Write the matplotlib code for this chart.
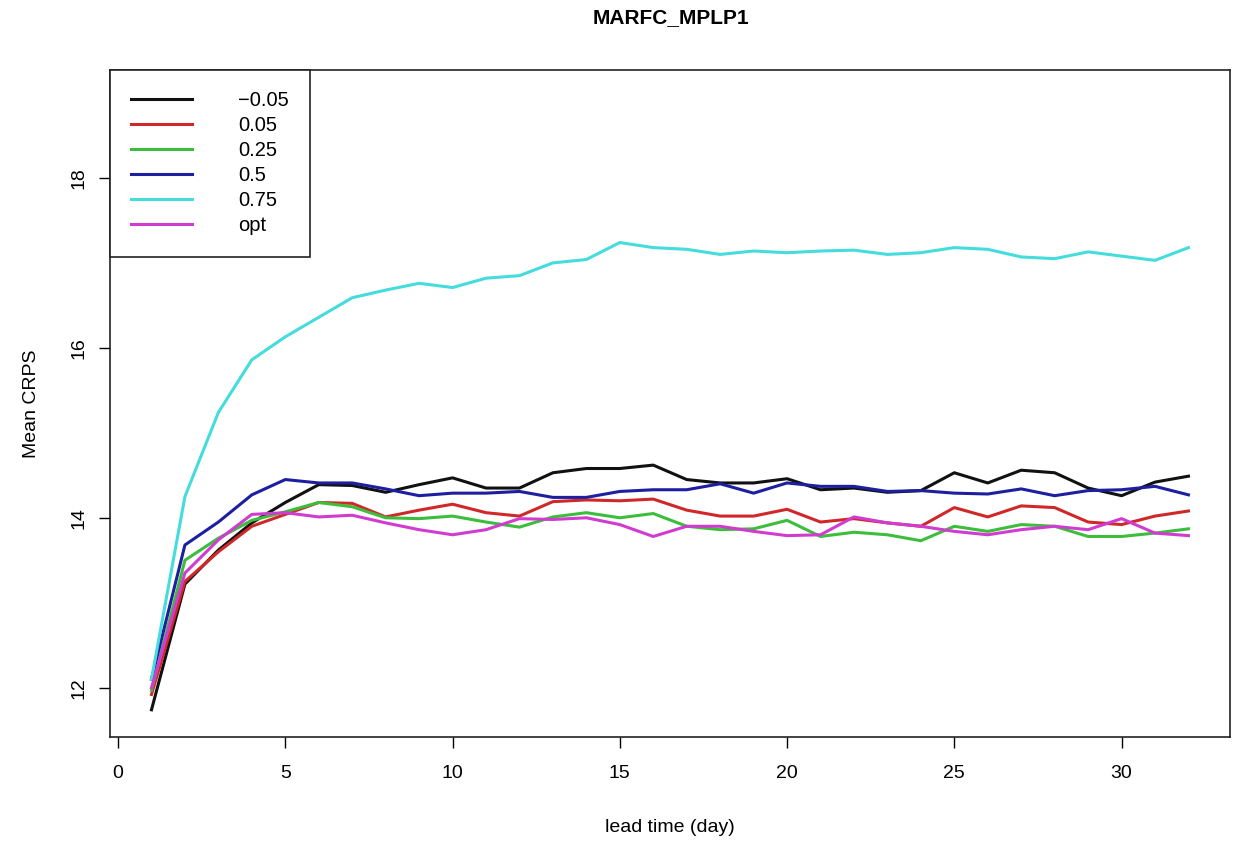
import matplotlib
matplotlib.use('Agg')
from matplotlib import pyplot as plt

plt.rcParams['font.family'] = ['Liberation Sans', 'DejaVu Sans']

days = list(range(1, 33))

crps_m005 = [11.74, 13.22, 13.62, 13.94, 14.18, 14.39, 14.38, 14.30, 14.39, 14.47,
             14.35, 14.35, 14.53, 14.58, 14.58, 14.62, 14.45, 14.41, 14.41, 14.46,
             14.33, 14.35, 14.30, 14.32, 14.53, 14.41, 14.56, 14.53, 14.35, 14.26,
             14.42, 14.49]
crps_005 = [11.92, 13.25, 13.60, 13.90, 14.04, 14.18, 14.17, 14.01, 14.09, 14.16,
            14.06, 14.02, 14.19, 14.21, 14.20, 14.22, 14.09, 14.02, 14.02, 14.10,
            13.95, 13.99, 13.94, 13.90, 14.12, 14.01, 14.14, 14.12, 13.95, 13.92,
            14.02, 14.08]
crps_025 = [11.97, 13.50, 13.76, 13.97, 14.07, 14.18, 14.13, 14.00, 13.99, 14.02,
            13.95, 13.89, 14.01, 14.06, 14.00, 14.05, 13.90, 13.86, 13.87, 13.97,
            13.78, 13.83, 13.80, 13.73, 13.90, 13.84, 13.92, 13.90, 13.78, 13.78,
            13.82, 13.87]
crps_05 = [12.10, 13.68, 13.95, 14.27, 14.45, 14.41, 14.41, 14.34, 14.26, 14.29,
           14.29, 14.31, 14.24, 14.24, 14.31, 14.33, 14.33, 14.40, 14.29, 14.41,
           14.37, 14.37, 14.31, 14.32, 14.29, 14.28, 14.34, 14.26, 14.32, 14.33,
           14.37, 14.27]
crps_075 = [12.10, 14.25, 15.24, 15.86, 16.13, 16.36, 16.59, 16.68, 16.76, 16.71,
            16.82, 16.85, 17.00, 17.04, 17.24, 17.18, 17.16, 17.10, 17.14, 17.12,
            17.14, 17.15, 17.10, 17.12, 17.18, 17.16, 17.07, 17.05, 17.13, 17.08,
            17.03, 17.18]
crps_opt = [12.00, 13.35, 13.74, 14.04, 14.06, 14.01, 14.03, 13.94, 13.86, 13.80,
            13.86, 13.99, 13.98, 14.00, 13.92, 13.78, 13.90, 13.90, 13.84, 13.79,
            13.80, 14.01, 13.94, 13.90, 13.84, 13.80, 13.86, 13.90, 13.86, 13.99,
            13.82, 13.79]

series = [crps_m005, crps_005, crps_025, crps_05, crps_075, crps_opt]
labels = ['\u22120.05', '0.05', '0.25', '0.5', '0.75', 'opt']
colors = ['#111111', '#d02828', '#3cbe3c', '#1e1ea0', '#44dcdc', '#d03cd0']

fig = plt.figure(figsize=(12.43, 8.44), dpi=100)
ax = fig.add_axes([0.0885, 0.1268, 0.901, 0.7902])

for ys, lab, col in zip(series, labels, colors):
    ax.plot(days, ys, color=col, linewidth=2.2, label=lab)

ax.set_xlim(-0.24, 33.24)
ax.set_ylim(11.42, 19.27)
ax.set_xticks([0, 5, 10, 15, 20, 25, 30])
ax.set_yticks([12, 14, 16, 18])
ax.tick_params(direction='out', length=8, width=1, labelsize=14)
ax.tick_params(axis='x', pad=12)
ax.tick_params(axis='y', pad=8)
for lbl in ax.get_yticklabels():
    lbl.set_rotation(90)
    lbl.set_va('center')
for sp in ax.spines.values():
    sp.set_linewidth(1.2)
    sp.set_color('#222222')

ax.set_xlabel('lead time (day)', fontsize=14, labelpad=27)
ax.set_ylabel('Mean CRPS', fontsize=14, labelpad=22)
fig.suptitle('MARFC_MPLP1', fontsize=15, fontweight='bold', x=0.54, y=0.99)

leg = ax.legend(loc='upper left', borderaxespad=0, fancybox=False,
                edgecolor='#222222', fontsize=14.5, handlelength=3.0,
                handletextpad=2.3, labelspacing=0.3, borderpad=1.05,
                framealpha=1)
leg.get_frame().set_linewidth(1.2)

fig.savefig('out.png', dpi=100)
